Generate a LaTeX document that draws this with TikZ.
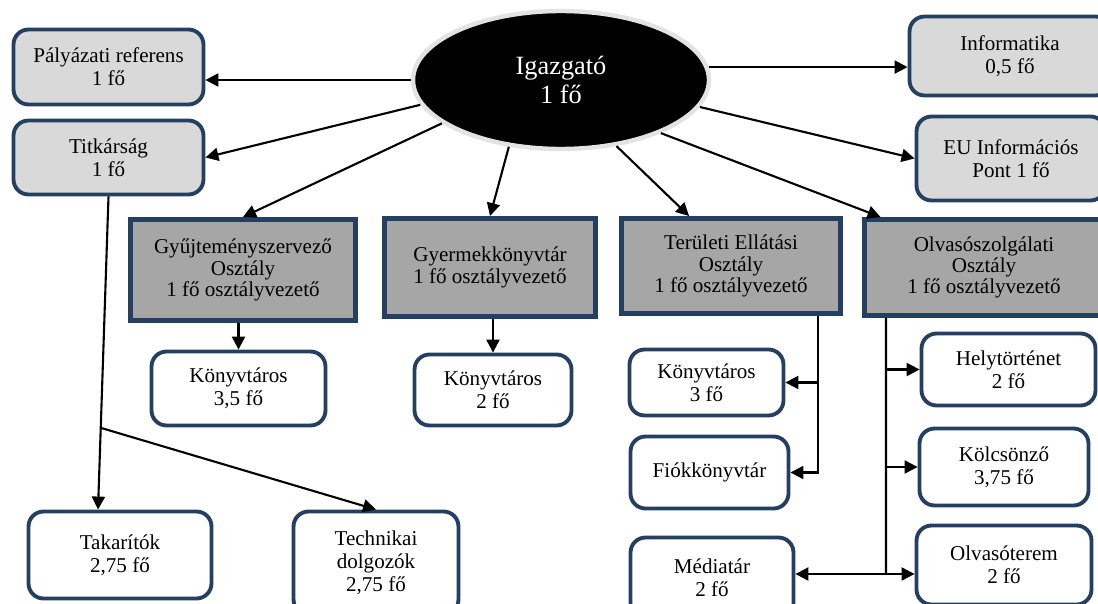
\documentclass[tikz,border=0pt]{standalone}
\usepackage{fontspec}
\setmainfont{Liberation Serif}
\usetikzlibrary{calc, arrows.meta, shapes.geometric}

\definecolor{keret}{HTML}{243F60}
\definecolor{vilagos}{HTML}{D9D9D9}
\definecolor{sotet}{HTML}{A6A6A6}

\tikzset{
  kerek/.style={draw=keret, line width=2.2pt, rounded corners=3mm, align=center, inner sep=0pt, font=\fontsize{12}{13.2}\selectfont},
  felso/.style={kerek, fill=vilagos},
  also/.style={kerek, fill=white},
  osztaly/.style={draw=keret, line width=2.8pt, fill=sotet, align=center, inner sep=0pt, font=\fontsize{12}{12.2}\selectfont},
  vezeto/.style={ellipse, fill=black, draw=gray!22, line width=2.5pt, text=white, align=center, inner sep=0pt, font=\fontsize{15}{16}\selectfont},
  vonal/.style={line width=1.2pt},
  nyil/.style={vonal, -{Triangle[length=2.6mm,width=2.6mm]}},
}

\begin{document}
\begin{tikzpicture}[x=0.02cm, y=-0.02cm]
                \useasboundingbox (0,0) rectangle (1098,604);
                % Igazgató
                \node[vezeto, minimum width=5.92cm, minimum height=2.76cm] (igaz) at (561,80) {Igazgató\\1 fő};
                % felső dobozok
                \node[felso, minimum width=3.8cm, minimum height=1.5cm] (pal) at (108.5,67) {Pályázati referens\\1 fő};
                \node[felso, minimum width=3.8cm, minimum height=1.48cm] (titk) at (108.5,157.5) {Titkárság\\1 fő};
                \node[felso, minimum width=4.02cm, minimum height=1.58cm] (info) at (1010,56) {Informatika\\0,5 fő};
                \node[felso, minimum width=3.78cm, minimum height=1.68cm] (eu) at (1011,158.5) {EU Információs\\Pont 1 fő};
                % osztályok
                \node[osztaly, minimum width=4.5cm, minimum height=2.02cm] (gyujt) at (243,270) {Gyűjteményszervező\\Osztály\\1 fő osztályvezető};
                \node[osztaly, minimum width=4.22cm, minimum height=1.96cm] (gyerm) at (490,267.5) {Gyermekkönyvtár\\1 fő osztályvezető};
                \node[osztaly, minimum width=4.38cm, minimum height=1.9cm] (terul) at (731,266) {Területi Ellátási\\Osztály\\1 fő osztályvezető};
                \node[osztaly, minimum width=4.78cm, minimum height=1.92cm] (olvaso) at (984,267.5) {Olvasószolgálati\\Osztály\\1 fő osztályvezető};
                % alsó dobozok
                \node[also, minimum width=3.48cm, minimum height=1.48cm] (konyv1) at (238.5,388.5) {Könyvtáros\\3,5 fő};
                \node[also, minimum width=3.14cm, minimum height=1.42cm] (konyv2) at (493,390) {Könyvtáros\\2 fő};
                \node[also, minimum width=3.08cm, minimum height=1.32cm] (konyv3) at (706.5,382.5) {Könyvtáros\\3 fő};
                \node[also, minimum width=3.16cm, minimum height=1.44cm] (fiok) at (709.5,472.5) {Fiókkönyvtár};
                \node[also, minimum width=3.26cm, minimum height=1.62cm] (media) at (712,578) {Médiatár\\2 fő};
                \node[also, minimum width=3.48cm, minimum height=1.44cm] (hely) at (1008.5,369.5) {Helytörténet\\2 fő};
                \node[also, minimum width=3.38cm, minimum height=1.54cm] (kolcs) at (1004,467) {Kölcsönző\\3,75 fő};
                \node[also, minimum width=3.5cm, minimum height=1.58cm] (olvterem) at (1004,565) {Olvasóterem\\2 fő};
                \node[also, minimum width=3.66cm, minimum height=1.74cm] (takar) at (120,555) {Takarítók\\2,75 fő};
                \node[also, minimum width=3.3cm, minimum height=2.06cm] (techn) at (376,563) {Technikai\\dolgozók\\2,75 fő};
                % segédpontok
                \coordinate (takarbe) at ([xshift=-0.44cm]takar.north);
                \coordinate (agv) at ($(titk.south)!0.739!(takarbe)$);
                \coordinate (tgerinc) at ([xshift=1.74cm]terul.south);
                \coordinate (ogerinc) at ([xshift=-1.96cm]olvaso.south);
                \coordinate (oalj) at (886,574);
                % Igazgató nyilai
                \draw[nyil] (igaz.west) -- (igaz.west -| pal.east);
                \draw[nyil] (igaz.190) -- (titk.east);
                \draw[nyil] (igaz.200) -- (gyujt.north);
                \draw[nyil] (igaz.232) -- (gyerm.north);
                \draw[nyil] (igaz.310) -- (terul.130);
                \draw[nyil] (igaz.332) -- (olvaso.154);
                \draw[nyil] (igaz.5) -- (igaz.5 -| info.west);
                \draw[nyil] (igaz.349) -- (eu.west);
                % osztályok nyilai
                \draw[nyil] (konyv1.north |- gyujt.south) -- (konyv1.north);
                \draw[nyil] (konyv2.north |- gyerm.south) -- (konyv2.north);
                \draw[nyil] (tgerinc) |- (fiok.east);
                \draw[nyil] (tgerinc |- konyv3.east) -- (konyv3.east);
                \draw[vonal] (ogerinc) -- (oalj);
                \draw[nyil] (ogerinc |- hely.west) -- (hely.west);
                \draw[nyil] (ogerinc |- kolcs.west) -- (kolcs.west);
                \draw[nyil] (oalj) -- (oalj -| olvterem.west);
                \draw[nyil] (oalj) -- (oalj -| media.east);
                % Titkárság alatt
                \draw[nyil] (titk.south) -- (takarbe);
                \draw[nyil] (agv) -- (techn.north);
            \end{tikzpicture}
\end{document}
